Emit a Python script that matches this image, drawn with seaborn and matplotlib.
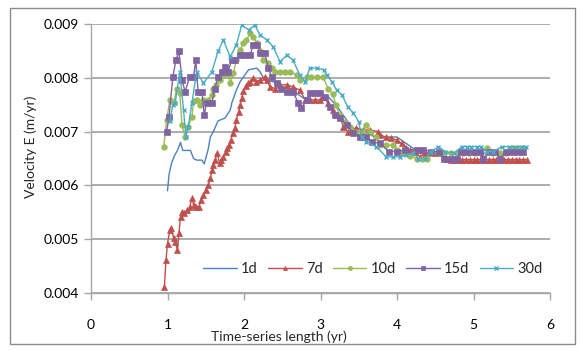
import matplotlib
matplotlib.use("Agg")
import matplotlib.pyplot as plt
import seaborn as sns
import pandas as pd
from matplotlib.patches import Rectangle

# ---------------- data ----------------
series_names = ["1d", "7d", "10d", "15d", "30d"]

t_1d = [1.00, 1.02, 1.05, 1.09, 1.13, 1.17, 1.20, 1.25, 1.30, 1.34, 1.38, 1.45, 1.48,
        1.53, 1.56, 1.60, 1.66, 1.75, 1.82, 1.84, 1.90, 1.95, 2.01, 2.06, 2.17, 2.21,
        2.27, 2.38, 2.43, 2.49, 2.60, 2.70, 2.80, 2.90, 3.00, 3.10, 3.20, 3.30, 3.40,
        3.50, 3.60, 3.70, 3.80, 3.90, 4.00, 4.10, 4.20, 4.30, 4.40, 4.60, 4.80, 5.00,
        5.20, 5.40, 5.65]
v_1d = [0.00590, 0.00620, 0.00640, 0.00655, 0.00665, 0.00680, 0.00665, 0.00665, 0.00665,
        0.00650, 0.00647, 0.00647, 0.00640, 0.00666, 0.00690, 0.00700, 0.00720, 0.00725,
        0.00740, 0.00753, 0.00777, 0.00793, 0.00805, 0.00815, 0.00818, 0.00811, 0.00796,
        0.00793, 0.00787, 0.00780, 0.00780, 0.00770, 0.00760, 0.00770, 0.00770, 0.00765,
        0.00750, 0.00730, 0.00710, 0.00700, 0.00700, 0.00690, 0.00690, 0.00690, 0.00690,
        0.00680, 0.00670, 0.00660, 0.00660, 0.00660, 0.00660, 0.00660, 0.00660, 0.00660,
        0.00660]

t_7d = [0.96, 0.98, 1.00, 1.03, 1.05, 1.08, 1.10, 1.13, 1.15, 1.17, 1.19, 1.22, 1.26,
        1.29, 1.32, 1.34, 1.37, 1.41, 1.44, 1.47, 1.50, 1.53, 1.56, 1.58, 1.60, 1.62,
        1.65, 1.68, 1.70, 1.73, 1.76, 1.78, 1.81, 1.83, 1.85, 1.88, 1.90, 1.93, 1.95,
        1.97, 1.99, 2.02, 2.05, 2.08, 2.12, 2.16, 2.21, 2.27, 2.30, 2.34, 2.41, 2.47,
        2.56, 2.64, 2.73, 2.80, 2.86, 2.93, 2.99, 3.03, 3.10, 3.16, 3.21, 3.25, 3.30,
        3.36, 3.41, 3.47, 3.56, 3.65, 3.75, 3.78, 3.85, 3.92, 4.00, 4.06, 4.12, 4.17,
        4.23, 4.30, 4.36, 4.44, 4.52, 4.60, 4.65, 4.70, 4.75, 4.80, 4.85, 4.90, 4.95,
        5.00, 5.05, 5.10, 5.15, 5.20, 5.25, 5.30, 5.35, 5.40, 5.45, 5.50, 5.55, 5.60,
        5.65, 5.70]
v_7d = [0.00412, 0.00461, 0.00492, 0.00517, 0.00520, 0.00502, 0.00495, 0.00480, 0.00511,
        0.00542, 0.00551, 0.00548, 0.00554, 0.00560, 0.00576, 0.00564, 0.00560, 0.00560,
        0.00573, 0.00582, 0.00591, 0.00600, 0.00613, 0.00629, 0.00638, 0.00647, 0.00660,
        0.00641, 0.00647, 0.00653, 0.00663, 0.00669, 0.00675, 0.00684, 0.00697, 0.00706,
        0.00722, 0.00737, 0.00750, 0.00762, 0.00775, 0.00785, 0.00790, 0.00793, 0.00799,
        0.00793, 0.00796, 0.00802, 0.00796, 0.00783, 0.00780, 0.00787, 0.00787, 0.00783,
        0.00777, 0.00759, 0.00759, 0.00759, 0.00759, 0.00765, 0.00753, 0.00740, 0.00731,
        0.00728, 0.00709, 0.00700, 0.00703, 0.00707, 0.00703, 0.00703, 0.00700, 0.00694,
        0.00690, 0.00688, 0.00684, 0.00678, 0.00670, 0.00666, 0.00663, 0.00653, 0.00660,
        0.00660, 0.00660, 0.00660, 0.00650, 0.00648, 0.00648, 0.00648, 0.00648, 0.00648,
        0.00648, 0.00648, 0.00648, 0.00648, 0.00648, 0.00648, 0.00648, 0.00648, 0.00648,
        0.00648, 0.00648, 0.00648, 0.00648, 0.00648, 0.00648, 0.00648]

t_10d = [0.95, 0.99, 1.03, 1.08, 1.12, 1.16, 1.19, 1.23, 1.27, 1.32, 1.34, 1.38, 1.42,
         1.47, 1.53, 1.58, 1.60, 1.64, 1.69, 1.73, 1.79, 1.82, 1.86, 1.90, 1.95, 1.99,
         2.03, 2.08, 2.12, 2.17, 2.21, 2.25, 2.32, 2.36, 2.41, 2.47, 2.54, 2.60, 2.69,
         2.73, 2.82, 2.88, 2.95, 3.03, 3.10, 3.16, 3.20, 3.25, 3.32, 3.39, 3.47, 3.55,
         3.60, 3.65, 3.72, 3.78, 3.85, 3.95, 4.00, 4.08, 4.17, 4.26, 4.33, 4.39, 4.45,
         4.55, 4.62, 4.70, 4.78, 4.86, 4.94, 5.02, 5.10, 5.18, 5.26, 5.34, 5.42, 5.50,
         5.58, 5.65]
v_10d = [0.00672, 0.00722, 0.00759, 0.00753, 0.00780, 0.00771, 0.00712, 0.00690, 0.00709,
         0.00728, 0.00756, 0.00759, 0.00750, 0.00759, 0.00759, 0.00768, 0.00780, 0.00787,
         0.00796, 0.00805, 0.00805, 0.00790, 0.00808, 0.00833, 0.00852, 0.00864, 0.00870,
         0.00883, 0.00876, 0.00864, 0.00849, 0.00833, 0.00827, 0.00818, 0.00811, 0.00811,
         0.00811, 0.00811, 0.00805, 0.00796, 0.00802, 0.00802, 0.00802, 0.00802, 0.00780,
         0.00770, 0.00750, 0.00730, 0.00718, 0.00709, 0.00700, 0.00700, 0.00712, 0.00700,
         0.00690, 0.00675, 0.00675, 0.00675, 0.00666, 0.00660, 0.00655, 0.00650, 0.00650,
         0.00650, 0.00660, 0.00660, 0.00660, 0.00660, 0.00660, 0.00660, 0.00660, 0.00660,
         0.00660, 0.00670, 0.00660, 0.00660, 0.00660, 0.00670, 0.00670, 0.00670]

t_15d = [0.99, 1.02, 1.07, 1.11, 1.15, 1.19, 1.23, 1.29, 1.34, 1.37, 1.40, 1.45, 1.48,
         1.51, 1.58, 1.62, 1.66, 1.71, 1.75, 1.79, 1.84, 1.88, 1.95, 2.01, 2.08, 2.12,
         2.17, 2.21, 2.27, 2.32, 2.36, 2.43, 2.49, 2.56, 2.64, 2.71, 2.75, 2.82, 2.86,
         2.93, 2.99, 3.06, 3.12, 3.19, 3.25, 3.34, 3.43, 3.52, 3.60, 3.67, 3.78, 3.89,
         4.00, 4.10, 4.26, 4.34, 4.45, 4.55, 4.62, 4.70, 4.78, 4.84, 4.92, 5.00, 5.08,
         5.13, 5.20, 5.28, 5.35, 5.42, 5.50, 5.58, 5.65]
v_15d = [0.00700, 0.00728, 0.00802, 0.00833, 0.00849, 0.00796, 0.00774, 0.00802, 0.00802,
         0.00833, 0.00774, 0.00774, 0.00731, 0.00753, 0.00753, 0.00780, 0.00802, 0.00811,
         0.00821, 0.00811, 0.00833, 0.00833, 0.00842, 0.00842, 0.00842, 0.00861, 0.00861,
         0.00846, 0.00846, 0.00818, 0.00802, 0.00790, 0.00780, 0.00774, 0.00774, 0.00753,
         0.00744, 0.00759, 0.00771, 0.00771, 0.00771, 0.00765, 0.00746, 0.00731, 0.00725,
         0.00713, 0.00697, 0.00690, 0.00690, 0.00681, 0.00678, 0.00663, 0.00663, 0.00666,
         0.00666, 0.00666, 0.00663, 0.00663, 0.00650, 0.00650, 0.00650, 0.00663, 0.00663,
         0.00663, 0.00663, 0.00650, 0.00663, 0.00663, 0.00650, 0.00663, 0.00663, 0.00663,
         0.00663]

t_30d = [1.03, 1.07, 1.10, 1.16, 1.21, 1.24, 1.27, 1.32, 1.38, 1.47, 1.58, 1.66, 1.73,
         1.82, 1.90, 1.97, 2.06, 2.14, 2.21, 2.30, 2.38, 2.47, 2.56, 2.64, 2.73, 2.80,
         2.86, 2.95, 3.04, 3.08, 3.15, 3.21, 3.28, 3.36, 3.43, 3.50, 3.54, 3.60, 3.73,
         3.86, 3.95, 4.04, 4.12, 4.21, 4.28, 4.37, 4.45, 4.54, 4.63, 4.74, 4.85, 4.91,
         4.97, 5.04, 5.10, 5.17, 5.26, 5.37, 5.46, 5.54, 5.63, 5.68]
v_30d = [0.00720, 0.00750, 0.00753, 0.00811, 0.00740, 0.00690, 0.00709, 0.00753, 0.00811,
         0.00790, 0.00811, 0.00849, 0.00870, 0.00839, 0.00861, 0.00898, 0.00889, 0.00898,
         0.00880, 0.00870, 0.00858, 0.00830, 0.00842, 0.00833, 0.00805, 0.00793, 0.00818,
         0.00818, 0.00815, 0.00805, 0.00793, 0.00777, 0.00768, 0.00745, 0.00735, 0.00718,
         0.00690, 0.00681, 0.00672, 0.00653, 0.00653, 0.00653, 0.00656, 0.00660, 0.00650,
         0.00650, 0.00663, 0.00672, 0.00663, 0.00660, 0.00672, 0.00672, 0.00672, 0.00672,
         0.00672, 0.00663, 0.00663, 0.00672, 0.00672, 0.00672, 0.00672, 0.00672]

x_ticks = [0, 1, 2, 3, 4, 5, 6]
y_ticks = [0.004, 0.005, 0.006, 0.007, 0.008, 0.009]
x_label = "Time-series length (yr)"
y_label = "Velocity E (m/yr)"

# ---------------- styling ----------------
sns.set_style("white")
plt.rcParams["font.family"] = ["Lato", "DejaVu Sans"]

colors = ["#4F81BD", "#C0504D", "#9BBB59", "#8064A2", "#4BACC6"]
markers = [None, "^", "o", "s", "x"]
msizes = [0, 5, 4, 4, 3.5]

fig = plt.figure(figsize=(5.8, 3.5), dpi=100)
ax = fig.add_axes([91/580, 1-293/350, (550-91)/580, (293-24)/350])

data = [(t_1d, v_1d), (t_7d, v_7d), (t_10d, v_10d), (t_15d, v_15d), (t_30d, v_30d)]
for name, (t, v), c, m, ms in zip(series_names, data, colors, markers, msizes):
    df = pd.DataFrame({"t": t, "v": v})
    kw = dict(marker=m, markersize=ms, markeredgecolor=c, markerfacecolor=c,
              markeredgewidth=1.0 if m == "x" else 0.5) if m else {}
    sns.lineplot(data=df, x="t", y="v", ax=ax, color=c, linewidth=1.0,
                 sort=False, estimator=None, label=name, **kw)

ax.set_xlim(0, 6)
ax.set_ylim(0.004, 0.009)
ax.set_xticks(x_ticks)
ax.set_yticks(y_ticks)
ax.set_xticklabels([str(x) for x in x_ticks])
ax.set_yticklabels([f"{y:.3f}" for y in y_ticks])
ax.set_xlabel("")
ax.set_ylabel("")

ax.yaxis.grid(True, color="#A6A6A6", linewidth=1.3)
ax.xaxis.grid(False)
ax.set_axisbelow(True)
for s in ["top", "right"]:
    ax.spines[s].set_visible(False)
for s in ["left", "bottom"]:
    ax.spines[s].set_color("#A6A6A6")
    ax.spines[s].set_linewidth(1.0)
ax.tick_params(axis="both", which="both", direction="out", length=5, width=1.0,
               color="#A6A6A6", labelsize=10, labelcolor="#000000")
ax.tick_params(axis="x", pad=14)
ax.tick_params(axis="y", pad=4)
ax.tick_params(bottom=True, left=True)

fig.text(279/580, 1-337/350, x_label, ha="center", va="center", fontsize=10)
fig.text(31/580, 1-147/350, y_label, ha="center", va="center", rotation=90, fontsize=10)

leg = ax.legend(loc="center", bbox_to_anchor=(373/580, 1-269/350),
                bbox_transform=fig.transFigure, ncol=5, frameon=False,
                fontsize=10.5, handlelength=2.3, columnspacing=0.7,
                handletextpad=0.3, borderpad=0.2)
for h in leg.legend_handles:
    h.set_markersize(3)

fig.patches.append(Rectangle((10/580, 1-344/350), 565/580, 336/350,
                             transform=fig.transFigure, fill=False,
                             edgecolor="#8C8C8C", linewidth=1.0))

fig.savefig("out.png", dpi=100)
